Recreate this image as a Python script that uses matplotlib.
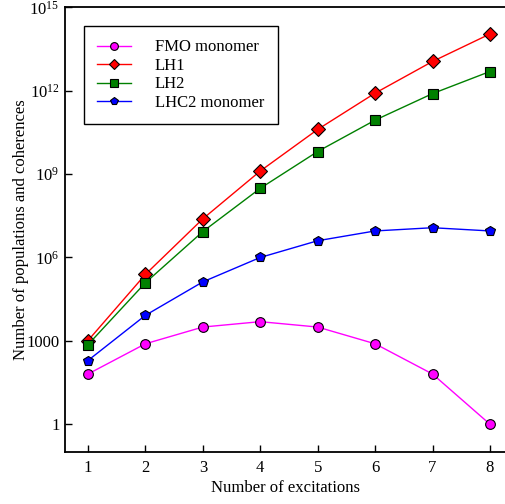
import matplotlib
matplotlib.use("Agg")
import matplotlib.pyplot as plt
from matplotlib.ticker import FixedLocator, NullLocator

# numero de excitacoes
excitations = [1, 2, 3, 4, 5, 6, 7, 8]

# populacoes + coerencias
fmo_monomer = [64, 784, 3136, 4900, 3136, 784, 64, 1]
lh1 = [1024, 246016, 2.46e7, 1.293e9, 4.055e10, 8.21e11, 1.133e13, 1.106e14]
lh2 = [729, 123201, 8.56e6, 3.08e8, 6.52e9, 8.76e10, 7.89e11, 4.93e12]
lhc2_monomer = [196, 8281, 132496, 1002001, 4008004, 9018009, 11778624, 9018009]

ytick_vals = [1, 1e3, 1e6, 1e9, 1e12, 1e15]
ytick_labels = ['1', '1000', r'$10^{6}$', r'$10^{9}$', r'$10^{12}$', r'$10^{15}$']

plt.rcParams['font.family'] = ['Liberation Serif', 'DejaVu Serif']
plt.rcParams['mathtext.fontset'] = 'custom'
plt.rcParams['mathtext.rm'] = 'Liberation Serif'
plt.rcParams['mathtext.it'] = 'Liberation Serif:italic'
plt.rcParams['font.size'] = 12

fig = plt.figure(figsize=(5.06, 5.04), dpi=100)
ax = fig.add_axes([0.1285, 0.1032, 0.8715, 0.8821])

series = [
    (fmo_monomer, 'FMO monomer', '#ff00ff', 'o'),
    (lh1, 'LH1', '#ff0000', 'D'),
    (lh2, 'LH2', '#008000', 's'),
    (lhc2_monomer, 'LHC2 monomer', '#0000ff', 'p'),
]
for vals, name, col, mk in series:
    ms = 7 if mk != 's' else 6.5
    ax.plot(excitations, vals, color=col, linewidth=1, marker=mk, markersize=ms,
            markerfacecolor=col, markeredgecolor='black', markeredgewidth=0.8,
            label=name)

ax.set_yscale('log')
ax.set_ylim(0.1, 1e15)
ax.set_xlim(0.6, 8.28)
ax.yaxis.set_major_locator(FixedLocator(ytick_vals))
ax.set_yticklabels(ytick_labels)
ax.yaxis.set_minor_locator(NullLocator())
ax.set_xticks(excitations)

ax.spines['right'].set_visible(False)
for s in ['left', 'bottom', 'top']:
    ax.spines[s].set_linewidth(1.3)
ax.tick_params(direction='in', length=5, width=1, labelsize=12)
ax.tick_params(axis='x', pad=6)
ax.tick_params(axis='y', pad=4)

ax.set_xlabel('Number of excitations', fontsize=12, labelpad=3)
ax.set_ylabel('Number of populations and coherences', fontsize=12, labelpad=-2)

leg = ax.legend(loc='upper left', bbox_to_anchor=(0.043, 0.958), borderaxespad=0,
                fancybox=False, edgecolor='black', framealpha=1, fontsize=12,
                handlelength=2.0, handletextpad=1.45, labelspacing=0.15,
                borderpad=0.8, markerscale=0.8)
leg.get_frame().set_linewidth(1.0)

fig.savefig('out.png', dpi=100)
